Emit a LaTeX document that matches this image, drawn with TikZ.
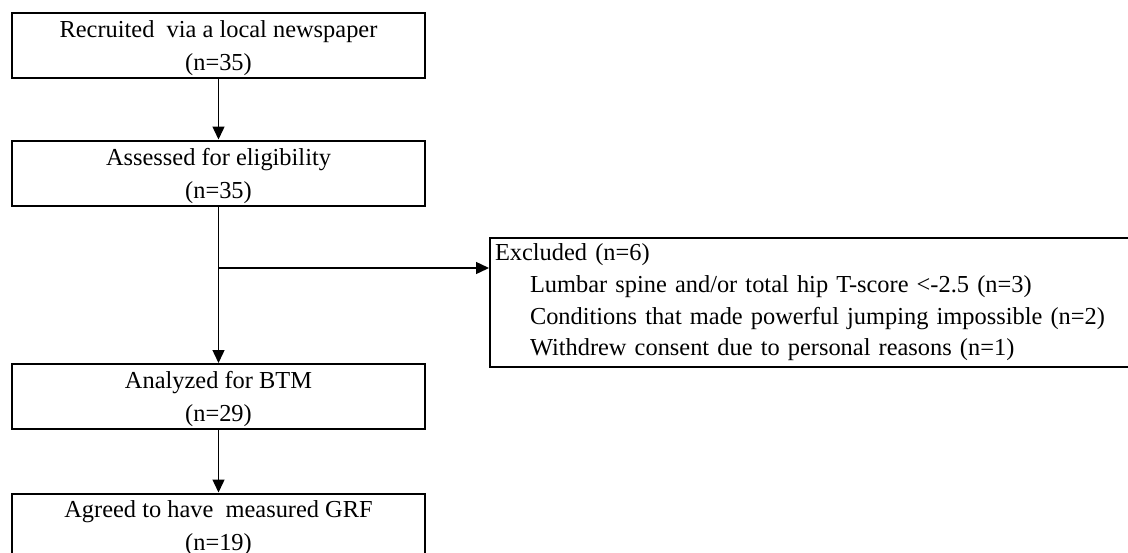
\documentclass[tikz,border=0pt]{standalone}
\usepackage{fontspec}
\setmainfont{Liberation Serif}
\usetikzlibrary{arrows.meta}

\begin{document}
\begin{tikzpicture}[
       x=0.5pt, y=-0.5pt,
       font=\fontsize{12.2}{16.5}\selectfont,
       etape/.style={
         draw,
         line width=1pt,
         rectangle,
         align=center,
         minimum width=206.5pt,
         minimum height=32.5pt,
         inner sep=0pt,
         text depth=0pt
       },
       fleche/.style={
         line width=0.7pt,
         -{Triangle[length=6.5pt,width=6pt]}
       }
     ]

       \useasboundingbox (0,0) rectangle (1128,552);

       \node (rec) at (218.5,45.5) [etape]{Recruited~ via a local newspaper\\(n=35)};
       \node (elig) at (218.5,173) [etape]{Assessed for eligibility\\(n=35)};
       \node (anal) at (218.5,396.5) [etape]{Analyzed for BTM\\(n=29)};
       \node (grf) at (218.5,526) [etape]{Agreed to have~ measured GRF\\(n=19)};

       \node (excl) at (489,237) [draw, line width=1pt, anchor=north west,
         minimum width=335pt, minimum height=64.5pt, inner xsep=1.5pt, inner ysep=0pt,
         text width=330pt, align=left, font=\fontsize{12.2}{15.8}\selectfont]
         {Excluded (n=6)\\
          \hspace*{17.5pt}Lumbar spine and/or total hip T-score <-2.5 (n=3)\\
          \hspace*{17.5pt}Conditions that made powerful jumping impossible (n=2)\\
          \hspace*{17.5pt}Withdrew consent due to personal reasons (n=1)};

       \coordinate (branche) at (218.5,268);

       \draw [fleche] (rec) -- (elig);
       \draw [fleche] (elig) -- (anal);
       \draw [fleche] (anal) -- (grf);
       \draw [fleche] (branche) -- (excl.west |- branche);

\end{tikzpicture}
\end{document}
